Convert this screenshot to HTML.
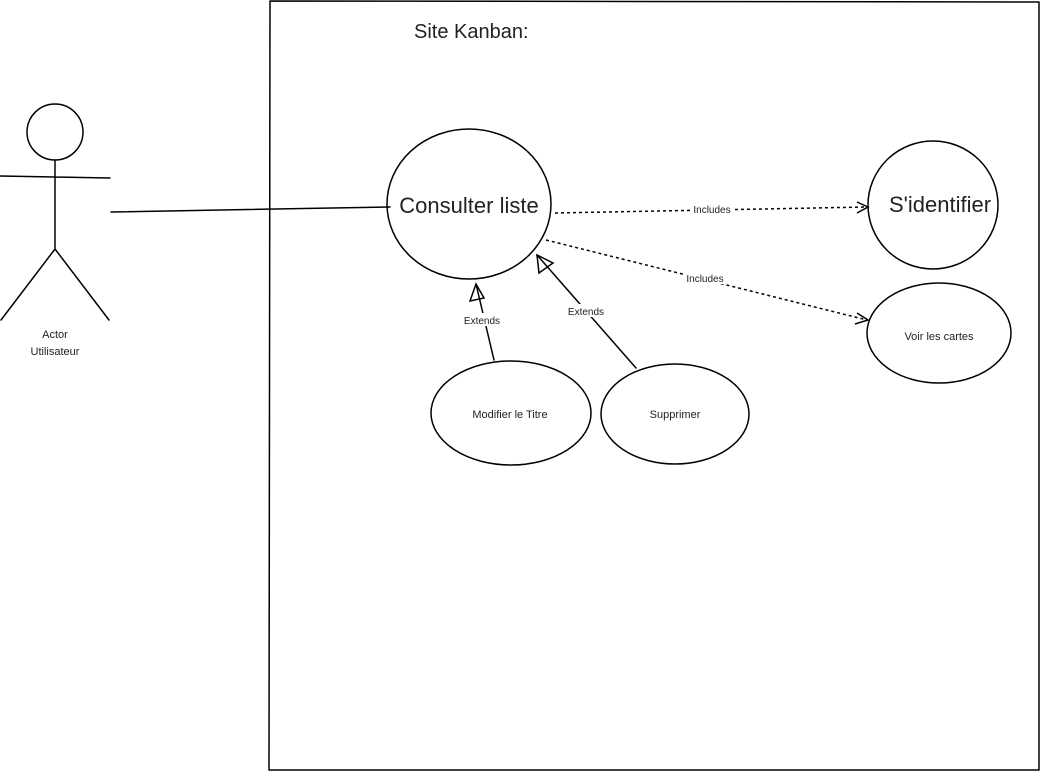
<!DOCTYPE html>
<html><head><meta charset="utf-8"><style>
html,body{margin:0;padding:0;background:#fff;}
svg{display:block;font-family:"Liberation Sans",Arial,sans-serif;}
</style></head><body>
<svg width="1040" height="771" viewBox="0 0 1040 771" xmlns="http://www.w3.org/2000/svg">
<g fill="none" stroke="#000" stroke-width="1.5" stroke-linecap="round">
<!-- system boundary -->
<path d="M270 1 L1039 2 M270 1 L269 770 M269 770 L1039 770 M1039 2 L1039 770"/>
<!-- actor -->
<circle cx="55" cy="132" r="28"/>
<path d="M55 160 L55 249 M0 176 L110 178 M55 249 L1 320 M55 249 L109 320"/>
<!-- association -->
<path d="M111 212 L390 207"/>
<!-- ellipses -->
<ellipse cx="469" cy="204" rx="82" ry="75"/>
<ellipse cx="933" cy="205" rx="65" ry="64"/>
<ellipse cx="939" cy="333" rx="72" ry="50"/>
<ellipse cx="511" cy="413" rx="80" ry="52"/>
<ellipse cx="675" cy="414" rx="74" ry="50"/>
<!-- extends -->
<path d="M494 360 L476 284"/>
<path d="M470 301 L476 284 L484 298 Z"/>
<path d="M636 368 L537 255"/>
<path d="M539 273 L537 255 L553 263 Z"/>
</g>
<g fill="none" stroke="#000" stroke-width="1.5" stroke-dasharray="3 3">
<path d="M555 213 L866 207"/>
<path d="M546 240 L867 320"/>
</g>
<g fill="none" stroke="#000" stroke-width="1.5">
<path d="M857 202 L868 207 L857 213"/>
<path d="M857 313 L868 320 L855 324"/>
</g>
<g fill="#222">
<rect x="690" y="203" width="44" height="12" fill="#fff"/>
<text x="712" y="213" font-size="10" text-anchor="middle">Includes</text>
<rect x="683" y="272" width="44" height="12" fill="#fff"/>
<text x="705" y="282" font-size="10" text-anchor="middle">Includes</text>
<rect x="460" y="313" width="44" height="13" fill="#fff"/>
<text x="482" y="324" font-size="10" text-anchor="middle">Extends</text>
<rect x="564" y="304" width="44" height="13" fill="#fff"/>
<text x="586" y="315" font-size="10" text-anchor="middle">Extends</text>
<text x="469" y="213" font-size="22" text-anchor="middle">Consulter liste</text>
<text x="940" y="212" font-size="22" text-anchor="middle">S'identifier</text>
<text x="939" y="340" font-size="11" text-anchor="middle">Voir les cartes</text>
<text x="510" y="418" font-size="11" text-anchor="middle">Modifier le Titre</text>
<text x="675" y="418" font-size="11" text-anchor="middle">Supprimer</text>
<text x="414" y="38" font-size="20">Site Kanban:</text>
<text x="55" y="338" font-size="11" text-anchor="middle">Actor</text>
<text x="55" y="355" font-size="11" text-anchor="middle">Utilisateur</text>
</g>
</svg>
</body></html>
